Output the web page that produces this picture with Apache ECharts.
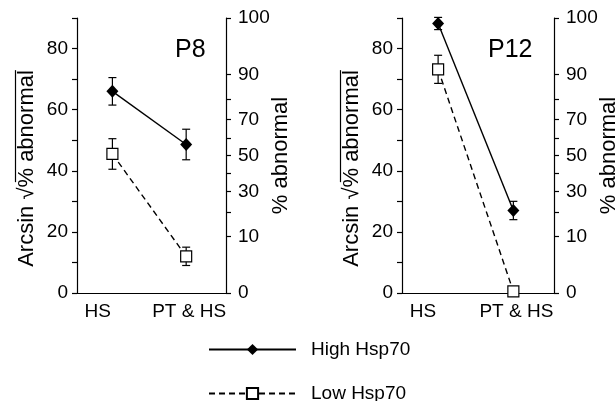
<!DOCTYPE html>
<html>
<head>
<meta charset="utf-8">
<script src="https://cdn.jsdelivr.net/npm/echarts@6/dist/echarts.min.js"></script>
<style>
  html, body { margin: 0; padding: 0; background: #fff; }
  #chart { width: 616px; height: 401px; }
</style>
</head>
<body>
<div id="chart"></div>
<script>
// categories and x positions
const categories = ['HS', 'PT & HS']
const xPos = [0, 1]
const panels = ['P8', 'P12']
const seriesNames = ['High Hsp70', 'Low Hsp70']

// arcsin sqrt values (degrees) with error bars
const highP8 = [66, 48.6]
const highP8Err = [4.5, 5]
const lowP8 = [45.5, 12]
const lowP8Err = [5, 3]
const highP12 = [88.2, 27]
const highP12Err = [2, 3]
const lowP12 = [73.2, 0.5]
const lowP12Err = [4.6, 1]

// right axis: % abnormal, placed on arcsin scale
const pctTicks = [0, 10, 20, 30, 40, 50, 60, 70, 80, 90, 100]
const pctLabels = [0, 10, 30, 50, 70, 90, 100]

const toDeg = p => Math.asin(Math.sqrt(p / 100)) * 180 / Math.PI
const toPct = d => Math.round(100 * Math.pow(Math.sin(d * Math.PI / 180), 2))

const font = 'Liberation Sans, Arial, sans-serif'
const black = '#000'

const high = [highP8, highP12]
const highErr = [highP8Err, highP12Err]
const low = [lowP8, lowP12]
const lowErr = [lowP8Err, lowP12Err]

const grids = [
  {left: 77, top: 18, width: 149, height: 275, outerBoundsMode: 'none'},
  {left: 402, top: 18, width: 152, height: 275, outerBoundsMode: 'none'}
]

const axisLine = {show: true, onZero: false, lineStyle: {color: black, width: 1.2}}

let xAxes = [], yAxes = [], series = [], titles = []

panels.forEach((p, i) => {
  titles.push({
    text: p,
    left: i === 0 ? 175 : 488,
    top: 38,
    padding: 0,
    textStyle: {fontFamily: font, fontSize: 25, fontWeight: 'normal', color: black}
  })
  xAxes.push({
    type: 'value', gridIndex: i, min: -0.48, max: 1.54,
    axisLine: axisLine,
    axisTick: {show: false},
    splitLine: {show: false},
    axisLabel: {
      customValues: [-0.2, 1.04],
      formatter: v => v < 0.5 ? categories[0] : categories[1],
      fontFamily: font, fontSize: 19, color: black, margin: 9
    }
  })
  yAxes.push({
    type: 'value', gridIndex: i, position: 'left', min: 0, max: 90, interval: 10,
    axisLine: axisLine,
    axisTick: {show: true, length: 5, lineStyle: {color: black, width: 1.2}},
    splitLine: {show: false},
    axisLabel: {
      formatter: v => (v % 20 === 0 && v < 90) ? v : '',
      fontFamily: font, fontSize: 19, color: black, margin: 9
    },
    name: '{o| }\n{t|Arcsin √% abnormal}',
    nameLocation: 'middle',
    nameRotate: 90,
    nameGap: 39,
    nameMoveOverlap: false,
    nameTextStyle: {
      padding: [0, 26, 0, 0],
      rich: {
        o: {width: 112, height: 1.2, lineHeight: 1, backgroundColor: black, align: 'right'},
        t: {fontFamily: font, fontSize: 22, color: black, lineHeight: 22}
      }
    }
  })
  yAxes.push({
    type: 'value', gridIndex: i, position: 'right', min: 0, max: 90,
    axisLine: axisLine,
    axisTick: {show: true, length: 5, customValues: pctTicks.map(toDeg), lineStyle: {color: black, width: 1.2}},
    splitLine: {show: false},
    axisLabel: {
      customValues: pctLabels.map(toDeg),
      formatter: v => toPct(v),
      fontFamily: font, fontSize: 19, color: black, margin: 12
    },
    name: '% abnormal',
    nameLocation: 'middle',
    nameRotate: 90,
    nameGap: 44,
    nameMoveOverlap: false,
    nameTextStyle: {fontFamily: font, fontSize: 22, color: black}
  })

  const errBars = (vals, errs) => vals.map((v, k) => [xPos[k], v, errs[k]])
  ;[[high[i], highErr[i]], [low[i], lowErr[i]]].forEach((pair, j) => {
    series.push({
      type: 'custom',
      name: 'err' + i + j,
      xAxisIndex: i, yAxisIndex: i * 2,
      data: errBars(pair[0], pair[1]),
      encode: {x: 0, y: 1},
      z: 1,
      renderItem: (params, api) => {
        const x = api.value(0), y = api.value(1), e = api.value(2)
        const t = api.coord([x, y + e])
        const b = api.coord([x, y - e])
        const h = 4
        const st = {stroke: black, lineWidth: 1.2}
        return {
          type: 'group',
          children: [
            {type: 'line', shape: {x1: t[0], y1: t[1], x2: b[0], y2: b[1]}, style: st},
            {type: 'line', shape: {x1: t[0] - h, y1: t[1], x2: t[0] + h, y2: t[1]}, style: st},
            {type: 'line', shape: {x1: b[0] - h, y1: b[1], x2: b[0] + h, y2: b[1]}, style: st}
          ]
        }
      }
    })
  })

  series.push({
    type: 'line', name: seriesNames[0],
    xAxisIndex: i, yAxisIndex: i * 2,
    data: high[i].map((v, k) => [xPos[k], v]),
    symbol: 'diamond', symbolSize: [12, 13],
    lineStyle: {color: black, width: 1.4},
    itemStyle: {color: black},
    z: 3
  })
  series.push({
    type: 'line', name: seriesNames[1],
    xAxisIndex: i, yAxisIndex: i * 2,
    data: low[i].map((v, k) => [xPos[k], v]),
    symbol: 'rect', symbolSize: 11,
    lineStyle: {color: black, width: 1.4, type: [6, 4]},
    itemStyle: {color: '#fff', borderColor: black, borderWidth: 1.2},
    z: 3
  })
})

// one legend per row, stacked like the reference
const legends = seriesNames.map((n, k) => ({
  data: [n],
  left: 208, top: 340 + k * 44,
  itemWidth: 87, itemHeight: 14,
  padding: 0,
  textStyle: {fontFamily: font, fontSize: 19, lineHeight: 16, color: black, padding: [0, 0, 0, 10]}
}))

const chart = echarts.init(document.getElementById('chart'))
chart.setOption({
  animation: false,
  backgroundColor: '#fff',
  title: titles,
  grid: grids,
  xAxis: xAxes,
  yAxis: yAxes,
  legend: legends,
  series: series
})
</script>
</body>
</html>
